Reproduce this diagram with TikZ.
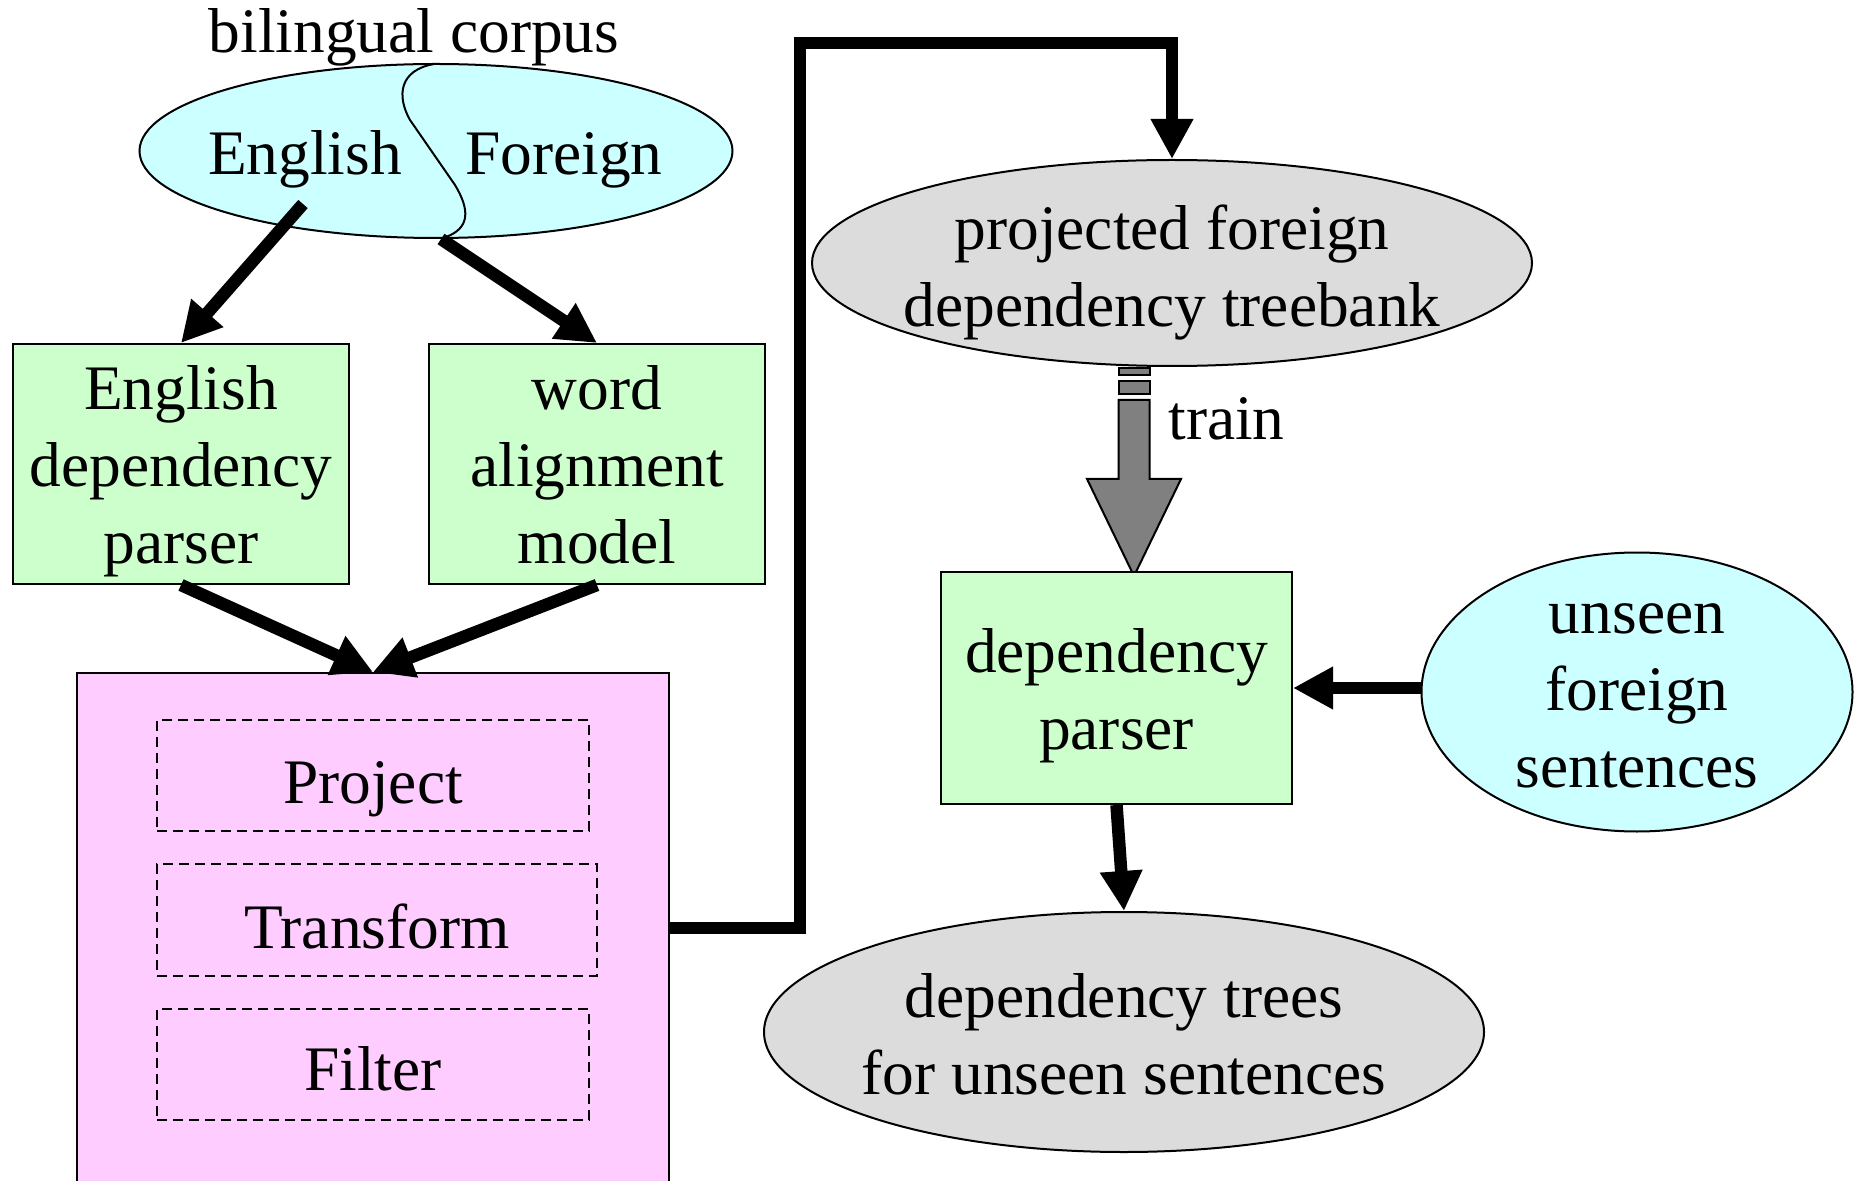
\documentclass[tikz,border=0pt]{standalone}
\usepackage{fontspec}
\setmainfont{Liberation Serif}
\usetikzlibrary{arrows.meta,shapes.geometric}
\definecolor{cyanfill}{RGB}{204,255,255}
\definecolor{greenfill}{RGB}{204,255,204}
\definecolor{magfill}{RGB}{255,204,255}
\definecolor{grayfill}{RGB}{220,220,220}
\definecolor{arrowgray}{RGB}{128,128,128}
\newcommand{\bigfont}{\fontsize{31.7pt}{38.5pt}\selectfont}
\newcommand{\mlines}[1]{\begin{tabular}[t]{@{}c@{}}#1\end{tabular}}
\begin{document}
\begin{tikzpicture}[x=0.5pt,y=-0.5pt,
  txt/.style={inner sep=0pt, anchor=base, font=\bigfont},
  gbox/.style={draw, line width=1pt, fill=greenfill, rectangle, inner sep=0pt},
  dbox/.style={draw, line width=1pt, dash pattern=on 5pt off 3pt, rectangle, inner sep=0pt},
  ell/.style={draw, line width=1pt, ellipse, inner sep=0pt},
  bigarrow/.style={line width=6.25pt, -{Triangle[length=20pt,width=20pt]}}
]
\clip (0,0) rectangle (1862,1181);
\fill[white] (0,0) rectangle (1862,1181);

% bilingual corpus
\node[ell, fill=cyanfill, minimum width=296.5pt, minimum height=87pt] (corpus) at (436,151) {};
\draw[line width=1pt] (434,64) .. controls (400,70) and (396,95) .. (410,120) -- (455,185) .. controls (470,210) and (470,228) .. (446,237);
\node[txt] (bctext) at (414,53) {bilingual corpus};
\node[txt] (engtext) at (305,175) {English};
\node[txt] (fortext) at (564,175) {Foreign};

% green boxes
\node[gbox, minimum width=168pt, minimum height=120pt] (engparser) at (181,464) {};
\node[txt] (engparsert) at (181,410) {\mlines{English\\dependency\\parser}};
\node[gbox, minimum width=168pt, minimum height=120pt] (align) at (597,464) {};
\node[txt] (alignt) at (597,410) {\mlines{word\\alignment\\model}};

% magenta box
\node[draw, line width=1pt, fill=magfill, rectangle, inner sep=0pt, minimum width=296pt, minimum height=255pt] (magenta) at (373,928) {};
\node[dbox, minimum width=216pt, minimum height=55.5pt] (project) at (373,775.5) {};
\node[txt] (projectt) at (373,803) {Project};
\node[dbox, minimum width=220pt, minimum height=56pt] (transform) at (377,920) {};
\node[txt] (transformt) at (377,948) {Transform};
\node[dbox, minimum width=216pt, minimum height=55.5pt] (filter) at (373,1064.5) {};
\node[txt] (filtert) at (373,1090) {Filter};

% projected treebank
\node[ell, fill=grayfill, minimum width=360pt, minimum height=103pt] (tb) at (1172,263) {};
\node[txt] (tbt) at (1172,250) {\mlines{projected foreign\\dependency treebank}};

% train arrow
\filldraw[fill=arrowgray, draw=black, line width=1pt] (1118.5,368) rectangle (1149.5,375);
\filldraw[fill=arrowgray, draw=black, line width=1pt] (1118.5,381) rectangle (1149.5,394);
\filldraw[fill=arrowgray, draw=black, line width=1pt, line join=miter]
  (1118.5,400) -- (1149.5,400) -- (1149.5,479) -- (1181,479) -- (1134,576)
  -- (1087,479) -- (1118.5,479) -- cycle;
\node[txt, anchor=base west] (train) at (1168,440) {train};

% dependency parser
\node[gbox, minimum width=175.5pt, minimum height=116pt] (dp) at (1116.5,688) {};
\node[txt] (dpt) at (1116.5,672) {\mlines{dependency\\parser}};

% unseen foreign sentences
\node[ell, fill=cyanfill, minimum width=215.5pt, minimum height=139.5pt] (unseen) at (1637,692) {};
\node[txt] (unseent) at (1637,633) {\mlines{unseen\\foreign\\sentences}};

% dependency trees
\node[ell, fill=grayfill, minimum width=360pt, minimum height=120pt] (dtrees) at (1124,1032) {};
\node[txt] (dtreest) at (1124,1017) {\mlines{dependency trees\\for unseen sentences}};

% connectors
\coordinate (s1) at (303,204);
\coordinate (s2) at (441,239);
\coordinate (c1) at (800,43);
\draw[bigarrow] (s1) -- (engparser.north);
\draw[bigarrow] (s2) -- (align.north);
\draw[bigarrow] (engparser.south) -- (magenta.north);
\draw[bigarrow] (align.south) -- (magenta.north);
\draw[bigarrow] (magenta.east) -| (c1) -- (c1 -| tb.north) -- (tb.north);
\draw[bigarrow] (unseen.west |- dp.east) -- (dp.east);
\draw[bigarrow] (dp.south) -- (dtrees.north);
\end{tikzpicture}
\end{document}
